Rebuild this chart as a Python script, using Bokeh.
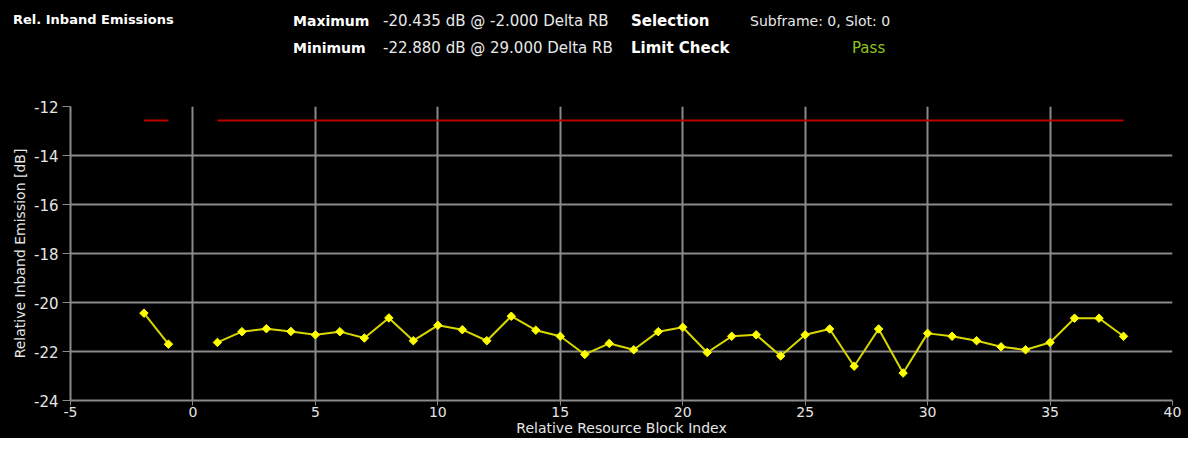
import numpy as np
from html import escape
from bokeh.plotting import figure
from bokeh.layouts import column
from bokeh.models import Range1d, FixedTicker, Div
from bokeh.embed import file_html
from bokeh.resources import INLINE

# ---- data ----
rb_index = [-2, -1, 1, 2, 3, 4, 5, 6, 7, 8, 9, 10, 11, 12, 13, 14, 15, 16, 17, 18, 19, 20,
            21, 22, 23, 24, 25, 26, 27, 28, 29, 30, 31, 32, 33, 34, 35, 36, 37, 38]
rel_emission_db = [-20.435, -21.70, -21.63, -21.19, -21.07, -21.18, -21.32, -21.19, -21.45,
                   -20.63, -21.56, -20.93, -21.11, -21.56, -20.56, -21.13, -21.38, -22.12,
                   -21.67, -21.93, -21.19, -21.01, -22.04, -21.38, -21.32, -22.18, -21.32,
                   -21.08, -22.60, -21.08, -22.880, -21.26, -21.38, -21.56, -21.81, -21.93,
                   -21.63, -20.64, -20.64, -21.38]
limit_x_groups = [[-2, -1], [1, 38]]
limit_db = -12.57
x_ticks = [-5, 0, 5, 10, 15, 20, 25, 30, 35, 40]
y_ticks = [-24, -22, -20, -18, -16, -14, -12]

title_text = "Rel. Inband Emissions"
selection_text = "Subframe: 0, Slot: 0"
limit_check_text = "Pass"

W, H = 1188, 438
HEADER_H = 90
FRAME_L, FRAME_R, FRAME_T, FRAME_B = 70, 1172, 106, 402

x = np.array(rb_index, dtype=float)
y = np.array(rel_emission_db, dtype=float)
imax = int(np.argmax(y))
imin = int(np.argmin(y))
max_text = f"{y[imax]:.3f} dB @ {x[imax]:.3f} Delta RB"
min_text = f"{y[imin]:.3f} dB @ {x[imin]:.3f} Delta RB"

# ---- header (inline SVG text inside a Bokeh Div) ----
items = []
def htext(text, px, py, bold=False, color="#ffffff", size=15):
    style = (f"font-family:'DejaVu Sans';font-size:{size}px;"
             f"font-weight:{'bold' if bold else 'normal'};fill:{color}")
    items.append(f'<text x="{px}" y="{py}" style="{style}" '
                 f'dominant-baseline="central">{escape(text)}</text>')

htext(title_text, 13, 19, bold=True, size=13)
htext("Maximum", 293, 21, bold=True, size=14)
htext("Minimum", 293, 48, bold=True, size=14)
htext(max_text, 383, 21, color="#e8e8e8")
htext(min_text, 383, 48, color="#e8e8e8")
htext("Selection", 631, 21, bold=True, size=15)
htext("Limit Check", 631, 48, bold=True, size=15)
htext(selection_text, 750, 21, color="#e8e8e8", size=14)
htext(limit_check_text, 852, 48, color="#8fc31f")

svg = (f'<svg xmlns="http://www.w3.org/2000/svg" width="{W}" height="{HEADER_H}" '
       f'style="display:block">'
       f'<rect x="0" y="0" width="{W}" height="{HEADER_H}" fill="black"/>'
       + "".join(items) + "</svg>")
header = Div(text=svg, width=W, height=HEADER_H, margin=0,
             styles={"background-color": "black", "line-height": "0"})

# ---- main chart ----
p = figure(width=W, height=H - HEADER_H, output_backend="svg", toolbar_location=None,
           x_range=Range1d(-5, 40), y_range=Range1d(-24, -12),
           min_border_left=FRAME_L, min_border_right=W - FRAME_R,
           min_border_top=FRAME_T - HEADER_H, min_border_bottom=H - FRAME_B,
           background_fill_color="black", border_fill_color="black", outline_line_color=None,
           margin=0)

p.xaxis.ticker = FixedTicker(ticks=x_ticks)
p.yaxis.ticker = FixedTicker(ticks=y_ticks)
p.xaxis.major_label_overrides = {t: str(t) for t in x_ticks}
p.yaxis.major_label_overrides = {t: str(t) for t in y_ticks}
for ax in (p.xaxis[0], p.yaxis[0]):
    ax.minor_tick_line_color = None
    ax.axis_line_color = "#8a8a8a"
    ax.axis_line_width = 2
    ax.major_tick_line_color = "#8a8a8a"
    ax.major_tick_line_width = 1
    ax.major_tick_in = 0
    ax.major_label_text_color = "#e6e6e6"
    ax.major_label_text_font = "DejaVu Sans"
    ax.axis_label_text_color = "#e6e6e6"
    ax.axis_label_text_font = "DejaVu Sans"
    ax.axis_label_text_font_style = "normal"
    ax.axis_label_text_font_size = "14px"

p.yaxis.major_tick_out = 8
p.yaxis.major_label_text_font_size = "15px"
p.yaxis.major_label_standoff = 4
p.yaxis.axis_label_standoff = 3
p.xaxis.major_tick_out = 5
p.xaxis.major_label_text_font_size = "14px"
p.xaxis.major_label_standoff = 1
p.xaxis.axis_label_standoff = 0

p.xaxis.axis_label = "Relative Resource Block Index"
p.yaxis.axis_label = "Relative Inband Emission [dB]"

p.grid.grid_line_color = "#8a8a8a"
p.grid.grid_line_width = 2

# limit line
for g in limit_x_groups:
    p.line(g, [limit_db] * len(g), line_color="#b80000", line_width=2)

# measurement line, broken where RB indices are not contiguous
breaks = np.where(np.diff(x) > 1)[0] + 1
for xs, ys in zip(np.split(x, breaks), np.split(y, breaks)):
    p.line(xs, ys, line_color="#d8d800", line_width=2)
    p.scatter(xs, ys, marker="square", angle=np.pi / 4, size=6,
              fill_color="#ffff00", line_color="#ffff00", line_width=1)

layout = column(header, p, spacing=0, margin=0, styles={"background-color": "black"})
open("out.html", "w").write(file_html(layout, INLINE))
